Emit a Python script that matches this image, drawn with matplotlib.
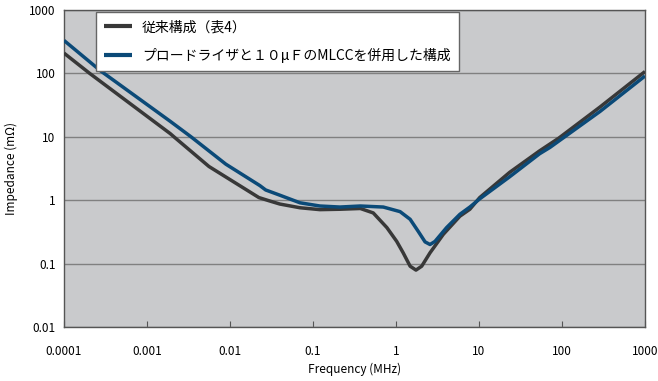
import matplotlib
matplotlib.use("Agg")
import matplotlib.pyplot as plt
from matplotlib.ticker import FixedLocator, FixedFormatter, NullLocator

plt.rcParams['font.family'] = ['Noto Sans CJK JP', 'DejaVu Sans']

# Frequency (MHz) and impedance (mOhm)
freq_conv = [1e-4, 2.04e-4, 1.91e-3, 2.11e-3, 5.58e-3, 0.0223, 0.0295, 0.0398,
             0.0697, 0.121, 0.211, 0.372, 0.532, 0.776, 1.02, 1.22, 1.48,
             1.74, 2.04, 2.57, 3.72, 5.89, 7.76, 10.2, 23.4, 53.7, 91.2,
             287, 1000]
z_conv = [209, 100, 11.2, 10, 3.4, 1.10, 0.98, 0.87,
          0.76, 0.71, 0.72, 0.74, 0.63, 0.37, 0.224, 0.148, 0.091,
          0.079, 0.091, 0.148, 0.29, 0.56, 0.72, 1.10, 2.75, 6.0, 9.5,
          29.5, 107]

freq_new = [1e-4, 2.75e-4, 1.4e-3, 1.91e-3, 3.39e-3, 8.91e-3, 0.0229, 0.0269,
            0.0398, 0.0697, 0.121, 0.211, 0.372, 0.703, 1.12, 1.48, 1.86,
            2.24, 2.57, 2.95, 4.07, 5.89, 7.76, 10.2, 23.4, 53.7, 71.6,
            287, 1000]
z_new = [331, 110, 23.5, 17.5, 10, 3.7, 1.70, 1.45,
         1.20, 0.91, 0.81, 0.78, 0.81, 0.78, 0.66, 0.50, 0.32,
         0.22, 0.20, 0.224, 0.37, 0.60, 0.78, 1.05, 2.34, 5.4, 6.8,
         25.1, 91]

labels = ["従来構成（表4）", "プロードライザと１０μＦのMLCCを併用した構成"]
x_ticks = [1e-4, 1e-3, 1e-2, 1e-1, 1, 10, 100, 1000]
x_tick_labels = ["0.0001", "0.001", "0.01", "0.1", "1", "10", "100", "1000"]
y_ticks = [0.01, 0.1, 1, 10, 100, 1000]
y_tick_labels = ["0.01", "0.1", "1", "10", "100", "1000"]

fig = plt.figure(figsize=(6.58, 3.81), dpi=100)
ax = fig.add_axes([64 / 658, 54 / 381, 581 / 658, 317 / 381])
ax.set_facecolor("#c9cacc")

ax.plot(freq_conv, z_conv, color="#383838", linewidth=2.5, label=labels[0],
        solid_joinstyle="round", solid_capstyle="butt", zorder=3)
ax.plot(freq_new, z_new, color="#0b4a78", linewidth=2.5, label=labels[1],
        solid_joinstyle="round", solid_capstyle="butt", zorder=4)

ax.set_xscale("log")
ax.set_yscale("log")
ax.set_xlim(1e-4, 1000)
ax.set_ylim(0.01, 1000)

ax.xaxis.set_major_locator(FixedLocator(x_ticks))
ax.xaxis.set_major_formatter(FixedFormatter(x_tick_labels))
ax.yaxis.set_major_locator(FixedLocator(y_ticks))
ax.yaxis.set_major_formatter(FixedFormatter(y_tick_labels))
ax.xaxis.set_minor_locator(NullLocator())
ax.yaxis.set_minor_locator(NullLocator())

ax.grid(True, axis="y", color="#808080", linewidth=1.0, zorder=1)
ax.set_axisbelow(True)
ax.tick_params(axis="x", direction="in", length=4, color="#555555",
               labelsize=8.5, pad=13)
ax.tick_params(axis="y", direction="in", length=0, labelsize=8.5, pad=6)
for s in ax.spines.values():
    s.set_color("#555555")
    s.set_linewidth(1.0)

ax.set_xlabel("Frequency (MHz)", fontsize=8.5, labelpad=3)
ax.set_ylabel("Impedance (mΩ)", fontsize=8.5, labelpad=8)

leg = ax.legend(loc="upper left", bbox_to_anchor=(0.055, 0.994),
                fontsize=10, frameon=True, fancybox=False,
                handlelength=2.0, handletextpad=0.7, labelspacing=1.0,
                borderpad=0.6, borderaxespad=0)
leg.get_frame().set_edgecolor("#666666")
leg.get_frame().set_linewidth(1.0)
leg.get_frame().set_facecolor("white")
leg.get_frame().set_alpha(1.0)
for line in leg.get_lines():
    line.set_linewidth(3)

fig.savefig("out.png", dpi=100)
